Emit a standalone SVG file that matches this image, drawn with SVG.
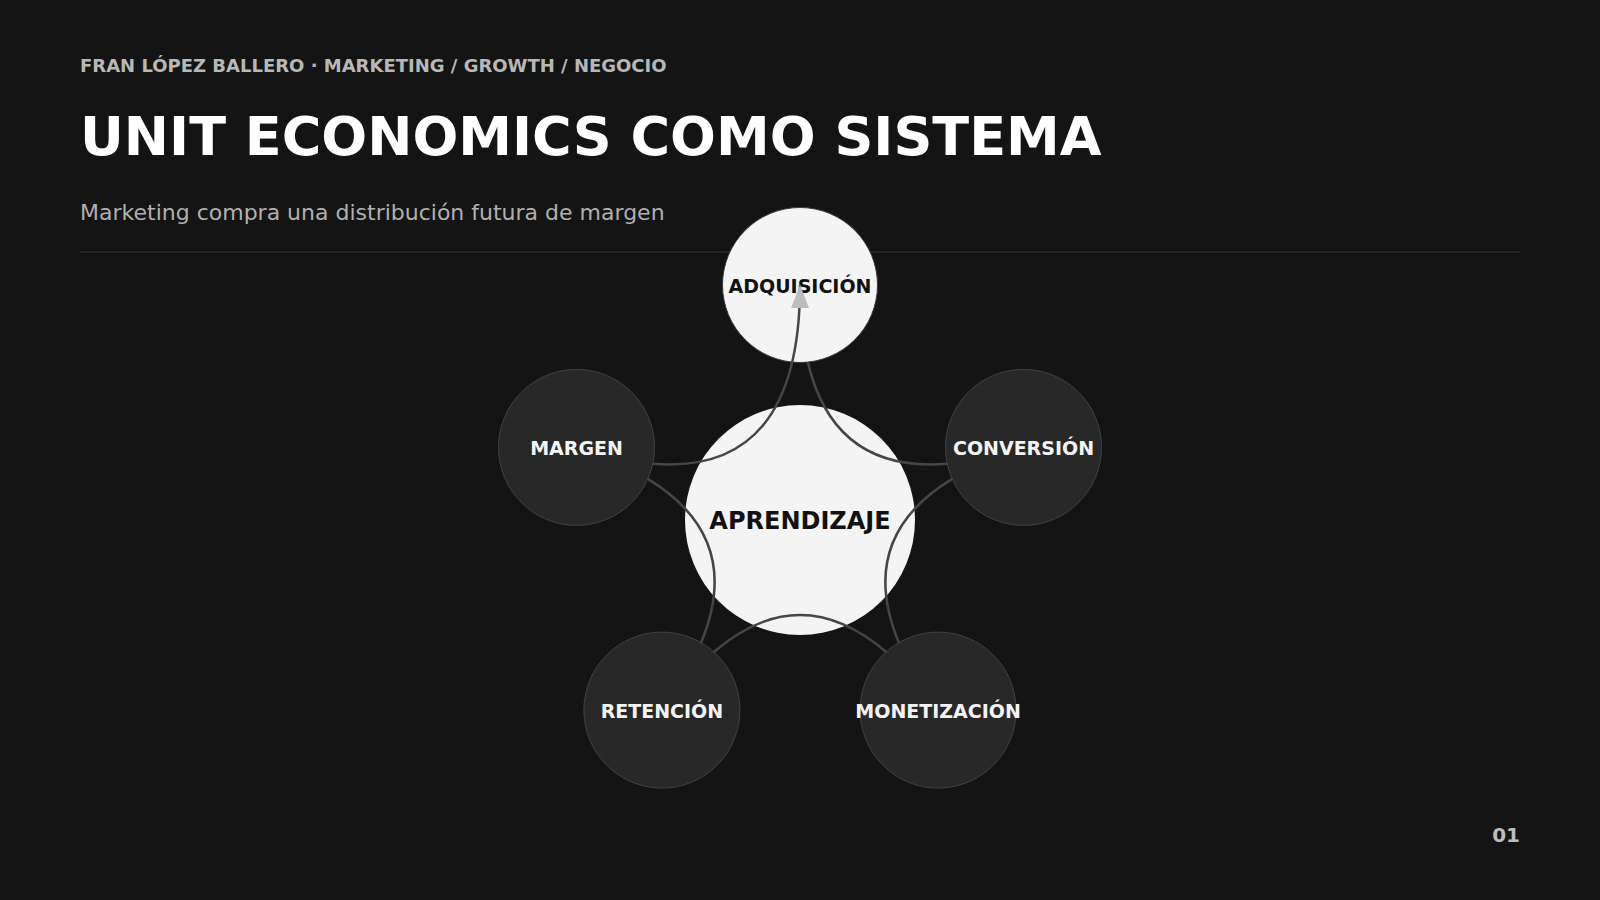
<svg xmlns="http://www.w3.org/2000/svg" width="1600" height="900" viewBox="0 0 1600 900">
  <style>
    .bg { fill: #141414; }
    .kicker { font-family: "DejaVu Sans", sans-serif; font-weight: bold; font-size: 18px; fill: #b8b8b8; }
    .title { font-family: "DejaVu Sans", sans-serif; font-weight: bold; font-size: 54px; fill: #ffffff; }
    .subtitle { font-family: "DejaVu Sans", sans-serif; font-size: 22px; fill: #b0b0b0; }
    .pagenum { font-family: "DejaVu Sans", sans-serif; font-weight: bold; font-size: 20px; fill: #bdbdbd; }
    .rule { stroke: #2c2c2c; stroke-width: 1.5; }
    .light { fill: #f4f4f4; stroke: #3a3a3a; stroke-width: 1; }
    .hub { fill: #f4f4f4; }
    .dark { fill: #282828; stroke: #424242; stroke-width: 1; }
    .lbl-dark { font-family: "DejaVu Sans", sans-serif; font-weight: bold; font-size: 19px; fill: #111111; text-anchor: middle; }
    .lbl-light { font-family: "DejaVu Sans", sans-serif; font-weight: bold; font-size: 19px; fill: #f4f4f4; text-anchor: middle; }
    .lbl-hub { font-family: "DejaVu Sans", sans-serif; font-weight: bold; font-size: 24px; fill: #111111; text-anchor: middle; }
    .edge { fill: none; stroke: #464646; stroke-width: 2.5; }
  </style>
  <defs>
    <marker id="arrow" markerUnits="userSpaceOnUse" markerWidth="24" markerHeight="18" refX="23" refY="9" orient="auto">
      <path d="M0,0 L23,9 L0,18 Z" fill="#bdbdbd"/>
    </marker>
  </defs>

  <rect class="bg" x="0" y="0" width="1600" height="900"/>

  <g id="header">
    <text class="kicker" x="80" y="72">FRAN LÓPEZ BALLERO · MARKETING / GROWTH / NEGOCIO</text>
    <text class="title" x="80" y="155">UNIT ECONOMICS COMO SISTEMA</text>
    <text class="subtitle" x="80" y="220">Marketing compra una distribución futura de margen</text>
    <line class="rule" x1="80" y1="252" x2="1520" y2="252"/>
  </g>

  <g id="node-aprendizaje">
    <circle class="hub" cx="800" cy="520" r="115"/>
    <text class="lbl-hub" x="800" y="528.5">APRENDIZAJE</text>
  </g>

  <g id="node-adquisicion">
    <circle class="light" cx="800" cy="285" r="77.5"/>
    <text class="lbl-dark" x="800" y="293.3">ADQUISICIÓN</text>
  </g>

  <g id="node-conversion">
    <circle class="dark" cx="1023.5" cy="447.4" r="78"/>
    <text class="lbl-light" x="1023.5" y="455.4">CONVERSIÓN</text>
  </g>

  <g id="node-monetizacion">
    <circle class="dark" cx="938.1" cy="710.1" r="78"/>
    <text class="lbl-light" x="938.1" y="718.1">MONETIZACIÓN</text>
  </g>

  <g id="node-retencion">
    <circle class="dark" cx="661.9" cy="710.1" r="78"/>
    <text class="lbl-light" x="661.9" y="718.1">RETENCIÓN</text>
  </g>

  <g id="node-margen">
    <circle class="dark" cx="576.5" cy="447.4" r="78"/>
    <text class="lbl-light" x="576.5" y="455.4">MARGEN</text>
  </g>

  <g id="connectors">
    <path class="edge" d="M807.82,362.13 Q833.98,473.24 947.73,463.80"/>
    <path class="edge" d="M807.82,362.13 Q833.98,473.24 947.73,463.80" transform="rotate(72 800 520)"/>
    <path class="edge" d="M807.82,362.13 Q833.98,473.24 947.73,463.80" transform="rotate(144 800 520)"/>
    <path class="edge" d="M807.82,362.13 Q833.98,473.24 947.73,463.80" transform="rotate(216 800 520)"/>
    <path class="edge" d="M807.82,362.13 Q841.79,506.42 1023.5,447.4" transform="rotate(288 800 520)" marker-end="url(#arrow)"/>
  </g>

  <g id="page">
    <text class="pagenum" x="1520" y="842" text-anchor="end">01</text>
  </g>
</svg>
